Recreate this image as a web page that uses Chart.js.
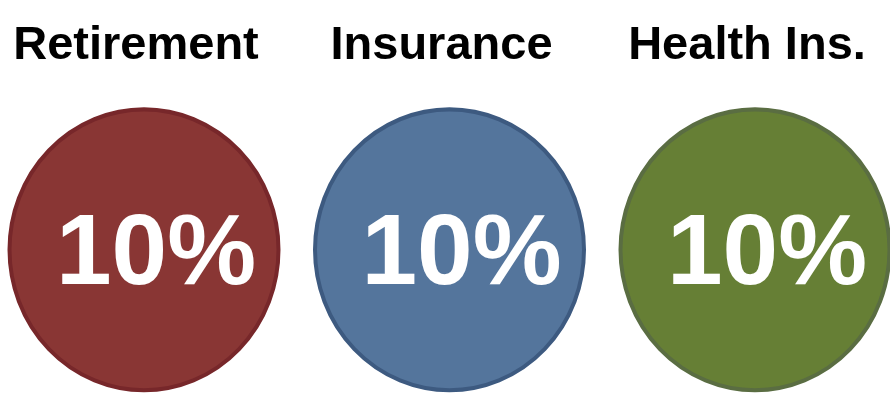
<!DOCTYPE html>
<html>
<head>
<meta charset="utf-8">
<script src="https://cdn.jsdelivr.net/npm/chart.js@4"></script>
<style>
  html, body { margin: 0; padding: 0; background: #ffffff; }
  #wrap { width: 890px; height: 393px; position: relative; }
</style>
</head>
<body>
<div id="wrap"><canvas id="c" width="890" height="393"></canvas></div>
<script>
const categories = ["Retirement", "Insurance", "Health Ins."];
const values = [10, 10, 10];
const valueLabels = ["10%", "10%", "10%"];
const fillColors = ["#893634", "#54759C", "#667F35"];
const borderColors = ["#77272A", "#3D5A80", "#5A6D42"];

const ovalPlugin = {
  id: 'oval',
  beforeDatasetDraw(chart) {
    const ctx = chart.ctx;
    const cy = chart.scales.y.getPixelForValue(values[0]);
    ctx.save();
    ctx.translate(0, cy);
    ctx.scale(1, 1.044);
    ctx.translate(0, -cy);
  },
  afterDatasetDraw(chart) {
    const ctx = chart.ctx;
    ctx.restore();
    const meta = chart.getDatasetMeta(0);
    ctx.save();
    ctx.fillStyle = '#ffffff';
    ctx.font = 'bold 100px "Liberation Sans", Arial, sans-serif';
    ctx.textAlign = 'center';
    ctx.textBaseline = 'alphabetic';
    meta.data.forEach((pt, i) => {
      ctx.fillText(valueLabels[i], pt.x + 12, pt.y + 34);
    });
    ctx.restore();
  }
};

new Chart(document.getElementById('c'), {
  type: 'scatter',
  data: {
    datasets: [{
      data: values.map((v, i) => ({ x: i, y: v })),
      clip: false,
      pointRadius: 134.5,
      pointHoverRadius: 134.5,
      pointBackgroundColor: fillColors,
      pointBorderColor: borderColors,
      pointBorderWidth: 4,
      pointHoverBorderWidth: 4
    }]
  },
  options: {
    responsive: false,
    animation: false,
    events: [],
    layout: { autoPadding: false, padding: { left: 144, right: 135, top: 0, bottom: 0 } },
    plugins: { legend: { display: false }, tooltip: { enabled: false } },
    scales: {
      x: {
        type: 'linear',
        position: 'top',
        min: 0,
        max: 2,
        grid: { display: false, drawTicks: false },
        border: { display: false },
        afterBuildTicks(axis) { axis.ticks = categories.map((c, i) => ({ value: i })); },
        afterFit(axis) { axis.height = 78; },
        ticks: {
          autoSkip: false,
          maxRotation: 0,
          padding: 4,
          color: '#000000',
          labelOffset: -8,
          font: { family: '"Liberation Sans", Arial, sans-serif', size: 47, weight: 'bold' },
          callback: (v) => categories[v]
        }
      },
      y: {
        display: false,
        min: 0,
        max: 22
      }
    }
  },
  plugins: [ovalPlugin]
});
</script>
</body>
</html>
